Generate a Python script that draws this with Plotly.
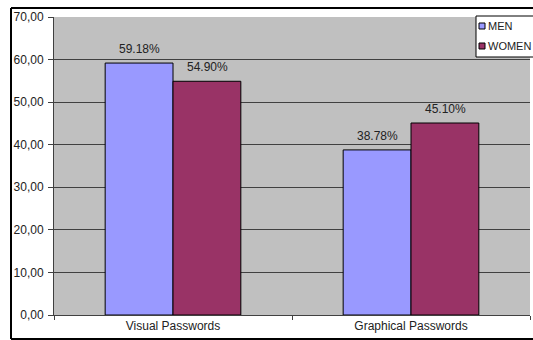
import plotly.graph_objects as go

categories = ["Visual Passwords", "Graphical Passwords"]
men = [59.18, 38.78]
women = [54.90, 45.10]
series_names = ["MEN", "WOMEN"]
series_colors = ["#9999FF", "#993366"]

FONT = "Liberation Sans, Arial, sans-serif"

# pixel -> paper helpers (plot area spans x 54..530, y 17..315)
def px(x):
    return (x - 54) / 476.0

def py(y):
    return (315 - y) / 298.0

fig = go.Figure()
for name, vals, col in zip(series_names, [men, women], series_colors):
    fig.add_trace(go.Bar(
        x=categories, y=vals, name=name,
        marker=dict(color=col, line=dict(color="black", width=1)),
    ))

# value labels above bars
annotations = []
for vals, shift in [(men, -34), (women, 34)]:
    for cat, v in zip(categories, vals):
        annotations.append(dict(
            x=cat, y=v, xref="x", yref="y", text=f"{v:.2f}%",
            showarrow=False, xshift=shift, yshift=5, yanchor="bottom",
            font=dict(size=12, color="#222222"),
        ))

# custom legend
shapes = [
    dict(type="rect", xref="paper", yref="paper", x0=px(476), x1=px(560),
         y0=py(57), y1=py(16), fillcolor="white", line=dict(color="black", width=1)),
]
for i, (name, col) in enumerate(zip(series_names, series_colors)):
    yc = 26 + 20 * i
    shapes.append(dict(type="rect", xref="paper", yref="paper",
                       x0=px(479), x1=px(485), y0=py(yc + 3), y1=py(yc - 3),
                       fillcolor=col, line=dict(color="black", width=1)))
    annotations.append(dict(x=px(486), y=py(yc), xref="paper", yref="paper",
                            text=name, showarrow=False, xanchor="left",
                            yanchor="middle", font=dict(size=11, color="#222222")))

# outer chart border (left, top, bottom)
shapes += [
    dict(type="line", xref="paper", yref="paper", x0=px(11), x1=px(11),
         y0=py(339), y1=py(8), line=dict(color="black", width=2)),
    dict(type="line", xref="paper", yref="paper", x0=px(11), x1=px(600),
         y0=py(8), y1=py(8), line=dict(color="black", width=2)),
    dict(type="line", xref="paper", yref="paper", x0=px(11), x1=px(600),
         y0=py(339), y1=py(339), line=dict(color="black", width=2)),
]

fig.update_layout(
    width=533, height=340,
    margin=dict(l=54, r=3, t=17, b=25, autoexpand=False),
    paper_bgcolor="white",
    plot_bgcolor="#C0C0C0",
    separators=",.",
    font=dict(family=FONT, size=12, color="#222222"),
    barmode="group",
    bargap=0.43,
    bargroupgap=0,
    showlegend=False,
    xaxis=dict(
        showline=True, linecolor="#404040", linewidth=1,
        ticks="outside", tickson="boundaries", ticklen=4, tickcolor="#404040",
        showgrid=False, tickfont=dict(size=12), automargin=False,
    ),
    yaxis=dict(
        range=[0, 70], dtick=10, tickformat=".2f",
        showline=True, linecolor="#404040", linewidth=1,
        ticks="outside", ticklen=5, tickcolor="#404040",
        ticklabelstandoff=2, automargin=False,
        showgrid=True, gridcolor="#404040", gridwidth=1,
        zeroline=False, tickfont=dict(size=12),
    ),
    annotations=annotations,
    shapes=shapes,
)

# drop the default page margin so the figure sits at the window's corner
fig.write_html(
    "out.html",
    config={"displayModeBar": False},
    post_script="document.body.style.margin='0';document.body.style.overflow='hidden';",
)
